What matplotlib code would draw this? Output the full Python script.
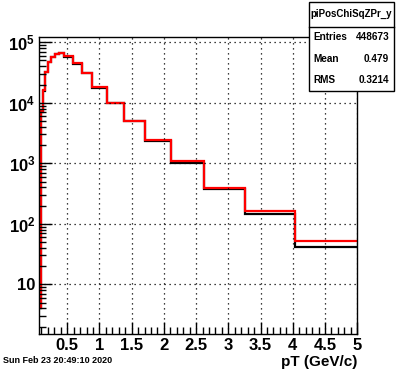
import numpy as np
import matplotlib.pyplot as plt
from matplotlib.ticker import MultipleLocator, FuncFormatter, LogLocator, NullFormatter

plt.rcParams['font.family'] = 'Liberation Sans'
plt.rcParams['mathtext.fontset'] = 'custom'
plt.rcParams['mathtext.rm'] = 'Liberation Sans:bold'
plt.rcParams['mathtext.bf'] = 'Liberation Sans:bold'

# bin edges in pT (GeV/c)
edges = [0.07, 0.09, 0.118, 0.159, 0.206, 0.248, 0.31, 0.377, 0.455, 0.586,
         0.726, 0.891, 1.116, 1.385, 1.713, 2.113, 2.621, 3.255, 4.029, 5.0]
# red histogram (drawn on top)
counts_red = [4, 7300, 16200, 32700, 47800, 57800, 64100, 67300, 60000, 45800,
              31400, 18000, 10050, 5060, 2430, 1100, 395, 163, 52.5]
# black histogram
counts_black = [4, 7000, 15500, 32000, 47000, 57000, 63000, 66500, 57000, 44000,
                30500, 17800, 9900, 4950, 2380, 1020, 376, 144, 41.8]

hist_name = 'piPosChiSqZPr_y'
stats = [('Entries', '448673'), ('Mean', '0.479'), ('RMS', '0.3214')]
date_text = 'Sun Feb 23 20:49:10 2020'

fig = plt.figure(figsize=(3.96, 3.72), dpi=100)
ax = fig.add_axes([0.0997, 0.102, 0.8023, 0.7985])

ax.stairs(counts_black, edges, color='black', lw=1.6, baseline=None)
ax.stairs(counts_red, edges, color='red', lw=1.6, baseline=None)

ax.set_yscale('log')
ax.set_xlim(0.07, 5)
ax.set_ylim(1.51, 1.22e5)

# ticks in ROOT style
ax.xaxis.set_major_locator(MultipleLocator(0.5))
ax.xaxis.set_minor_locator(MultipleLocator(0.1))
ax.yaxis.set_major_locator(LogLocator(base=10))
ax.yaxis.set_minor_locator(LogLocator(base=10, subs=np.arange(2, 10)))
ax.yaxis.set_minor_formatter(NullFormatter())

def ylab(v, pos):
    e = int(round(np.log10(v)))
    if e == 1:
        return '10'
    return r'$\mathregular{10^{%d}}$' % e

def xlab(v, pos):
    return '%g' % v

ax.yaxis.set_major_formatter(FuncFormatter(ylab))
ax.xaxis.set_major_formatter(FuncFormatter(xlab))
ax.tick_params(which='both', direction='in', top=False, right=False, width=1)
ax.tick_params(which='major', length=9, labelsize=12, pad=3)
ax.tick_params(which='minor', length=5)
for lab in ax.get_xticklabels() + ax.get_yticklabels():
    lab.set_fontweight('bold')
for s in ax.spines.values():
    s.set_linewidth(1)

ax.grid(True, which='major', color='black', linestyle=(0, (1, 3)), lw=0.9)

ax.set_xlabel('pT (GeV/c)', fontsize=11, fontweight='bold', loc='right', labelpad=1)

fig.text(0.008, 0.018, date_text, fontsize=6.5, fontweight='bold', ha='left', va='bottom')

# stats box
bx0, bx1 = 308.5 / 396, 394 / 396
by0, by1 = 1 - 90.7 / 372, 1 - 2 / 372
ydiv = 1 - 26.7 / 372
fig.patches.append(plt.Rectangle((bx0, by0), bx1 - bx0, by1 - by0, transform=fig.transFigure,
                                 facecolor='white', edgecolor='black', lw=1, zorder=5))
fig.add_artist(plt.Line2D([bx0, bx1], [ydiv, ydiv], transform=fig.transFigure, color='black', lw=1, zorder=6))
fig.text((bx0 + bx1) / 2, (ydiv + by1) / 2, hist_name, fontsize=7, fontweight='bold',
         ha='center', va='center', zorder=7)
row_h = (ydiv - by0) / 3
for i, (k, v) in enumerate(stats):
    yy = ydiv - row_h * (i + 0.5)
    fig.text(313 / 396, yy, k, fontsize=7.2, fontweight='bold', ha='left', va='center', zorder=7)
    fig.text(389 / 396, yy, v, fontsize=7.2, fontweight='bold', ha='right', va='center', zorder=7)

plt.savefig('out.png', dpi=100)
